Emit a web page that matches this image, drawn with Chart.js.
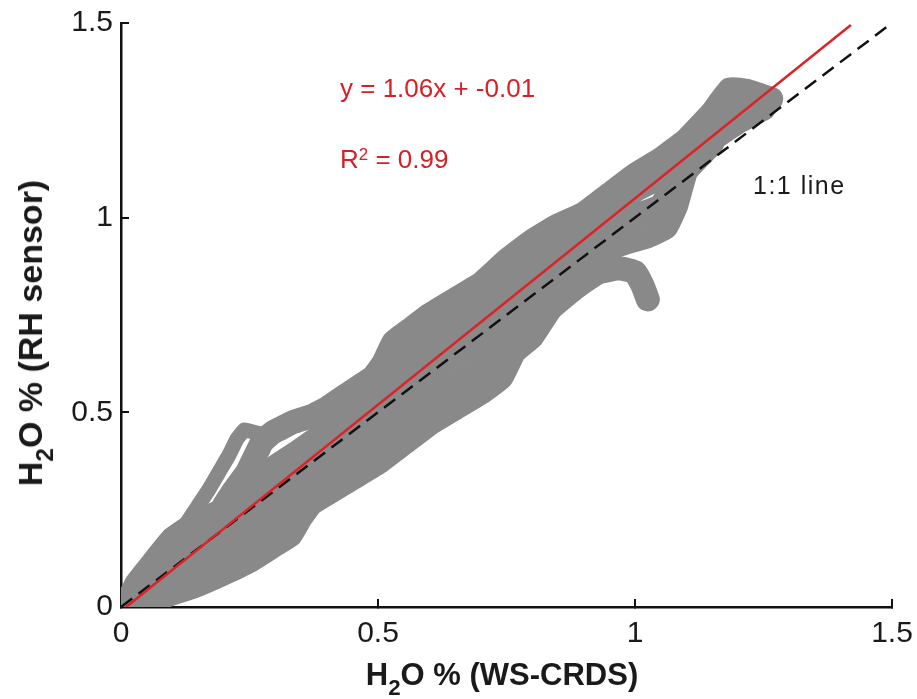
<!DOCTYPE html>
<html>
<head>
<meta charset="utf-8">
<script src="https://cdn.jsdelivr.net/npm/chart.js@4"></script>
<style>
  body { margin: 0; background: #fff; }
  #wrap { position: relative; width: 917px; height: 699px; font-family: "Liberation Sans", Arial, sans-serif; }
  #grafH2O { position: absolute; left: 0; top: 0; }
  .nota { position: absolute; white-space: nowrap; line-height: 1; }
  .sub { position: relative; font-size: 0.72em; top: 0.43em; }
  .sup { position: relative; font-size: 0.65em; top: -0.5em; }
</style>
</head>
<body>
<div id="wrap">
  <canvas id="grafH2O" width="917" height="699"></canvas>
  <div class="nota" style="left:340px; top:75px; font-size:26px; color:#d42027;">y = 1.06x + -0.01</div>
  <div class="nota" style="left:340px; top:146px; font-size:26px; color:#d42027;">R<span class="sup">2</span> = 0.99</div>
  <div class="nota" style="left:753px; top:173px; font-size:25px; color:#1a1a1a; letter-spacing:1.5px;">1:1 line</div>
  <div class="nota" style="left:502px; top:659px; font-size:31px; font-weight:bold; color:#1a1a1a; transform:translateX(-50%);">H<span class="sub">2</span>O % (WS-CRDS)</div>
  <div class="nota" style="left:30px; top:333px; font-size:34px; font-weight:bold; color:#1a1a1a; transform:translate(-50%,-50%) rotate(-90deg);">H<span class="sub">2</span>O % (RH sensor)</div>
</div>
<script>
// H2O % comparison: RH sensor vs WS-CRDS (grey trails, linear fit, 1:1 line)

// grey data trails, [x, y]
// thin outer lobe near x = 0.2 (leaves the white crescent under it)
const trailLobe = [[0.12,0.2],[0.15,0.26],[0.17,0.30],[0.19,0.345],[0.21,0.39],[0.225,0.43],[0.24,0.455],[0.255,0.45],[0.27,0.445]];
// upper edge of the band
const trailA = [[0.2,0.26],[0.22,0.30],[0.245,0.345],[0.26,0.385],[0.275,0.425],[0.295,0.448],[0.335,0.475],[0.37,0.49],[0.4,0.51],[0.45,0.555],[0.49,0.59],[0.51,0.625],[0.53,0.68],[0.56,0.71],[0.6,0.75],[0.65,0.79],[0.7,0.83],[0.75,0.89],[0.8,0.94],[0.85,0.98],[0.9,1.01],[0.95,1.06],[1.0,1.11],[1.05,1.15],[1.1,1.2],[1.15,1.27],[1.185,1.33],[1.22,1.325],[1.265,1.305]];
const trailB = [[0.01,0.005],[0.03,0.06],[0.06,0.11],[0.1,0.175],[0.15,0.22],[0.2,0.25],[0.25,0.295],[0.28,0.33],[0.3,0.36],[0.34,0.395],[0.4,0.45],[0.45,0.49],[0.5,0.54],[0.55,0.63],[0.6,0.68],[0.65,0.72],[0.7,0.76],[0.75,0.825],[0.8,0.875],[0.85,0.925],[0.9,0.965],[0.95,1.02],[1.0,1.07],[1.05,1.105],[1.1,1.17],[1.15,1.235],[1.2,1.285],[1.25,1.295]];
const trailC = [[0.01,0.0],[0.05,0.05],[0.1,0.12],[0.15,0.165],[0.2,0.2],[0.25,0.24],[0.3,0.28],[0.35,0.34],[0.4,0.39],[0.45,0.43],[0.5,0.475],[0.55,0.56],[0.6,0.61],[0.65,0.65],[0.7,0.69],[0.75,0.755],[0.8,0.815],[0.85,0.875],[0.9,0.92],[0.95,0.97],[1.0,1.005],[1.05,1.03],[1.1,1.14],[1.15,1.2],[1.2,1.245],[1.25,1.28]];
const trailD = [[0.03,0.01],[0.1,0.08],[0.15,0.11],[0.2,0.145],[0.25,0.185],[0.3,0.225],[0.35,0.29],[0.4,0.34],[0.45,0.375],[0.5,0.415],[0.55,0.49],[0.6,0.54],[0.65,0.58],[0.7,0.62],[0.75,0.69],[0.8,0.755],[0.85,0.83],[0.9,0.875],[0.95,0.92],[0.98,0.935],[1.02,0.95],[1.06,0.975],[1.08,1.03],[1.1,1.12],[1.15,1.19]];
// lower edge, ends in the hook near x = 1
const trailE = [[0.04,0.0],[0.09,0.03],[0.14,0.052],[0.19,0.08],[0.25,0.118],[0.3,0.16],[0.33,0.185],[0.35,0.23],[0.37,0.265],[0.4,0.29],[0.45,0.33],[0.5,0.37],[0.55,0.42],[0.6,0.47],[0.65,0.51],[0.7,0.55],[0.74,0.59],[0.765,0.655],[0.8,0.695],[0.835,0.765],[0.87,0.805],[0.9,0.835],[0.93,0.86],[0.97,0.87],[1.0,0.86],[1.015,0.825],[1.025,0.79]];

// linear fit (red) and 1:1 line, end points
const fitX = [0.01, 1.42];
const fitY = [0.0, 1.495];
const unoX = [0.0, 1.5];
const unoY = [0.0, 1.5];

const axisTicks = [0, 0.5, 1, 1.5];

function aPuntos(pares) {
  return pares.map(p => ({ x: p[0], y: p[1] }));
}

function aPuntosXY(xs, ys) {
  return xs.map((x, i) => ({ x: x, y: ys[i] }));
}

function trail(pares, ancho) {
  return {
    data: aPuntos(pares),
    showLine: true,
    borderColor: '#898989',
    borderWidth: ancho,
    borderCapStyle: 'round',
    borderJoinStyle: 'round',
    pointRadius: 0,
    tension: 0.1,
    order: 5
  };
}

const ejeFont = { family: '"Liberation Sans", Arial, sans-serif', size: 30 };

new Chart(document.getElementById('grafH2O').getContext('2d'), {
  type: 'scatter',
  data: {
    datasets: [
      { data: aPuntosXY(fitX, fitY), showLine: true, borderColor: '#dc2328', borderWidth: 2.5, pointRadius: 0, order: 0 },
      { data: aPuntosXY(unoX, unoY), showLine: true, borderColor: '#111', borderWidth: 2.5, borderDash: [14, 8], pointRadius: 0, order: 1 },
      trail(trailLobe, 15), trail(trailA, 24), trail(trailB, 24), trail(trailC, 24), trail(trailD, 24), trail(trailE, 24)
    ]
  },
  options: {
    responsive: false,
    animation: false,
    devicePixelRatio: 1,
    layout: { padding: { left: 0, right: 25, top: 23, bottom: 0 } },
    plugins: { legend: { display: false }, tooltip: { enabled: false } },
    scales: {
      x: {
        type: 'linear', min: 0, max: 1.5,
        afterBuildTicks: s => { s.ticks = axisTicks.map(v => ({ value: v })); },
        afterFit: s => { s.height = 92; s.paddingLeft = 0; s.paddingRight = 0; },
        border: { color: '#111', width: 2.5 },
        grid: { drawOnChartArea: false, color: '#111', lineWidth: 2, tickLength: -8 },
        ticks: { font: ejeFont, color: '#1a1a1a', padding: 17, maxRotation: 0, callback: v => String(v) }
      },
      y: {
        type: 'linear', min: 0, max: 1.5,
        afterBuildTicks: s => { s.ticks = axisTicks.map(v => ({ value: v })); },
        afterFit: s => { s.width = 121; s.paddingTop = 0; s.paddingBottom = 0; },
        border: { color: '#111', width: 2.5 },
        grid: { drawOnChartArea: false, color: '#111', lineWidth: 2, tickLength: -8 },
        ticks: { font: ejeFont, color: '#1a1a1a', padding: 16, callback: v => String(v) }
      }
    }
  }
});
</script>
</body>
</html>
